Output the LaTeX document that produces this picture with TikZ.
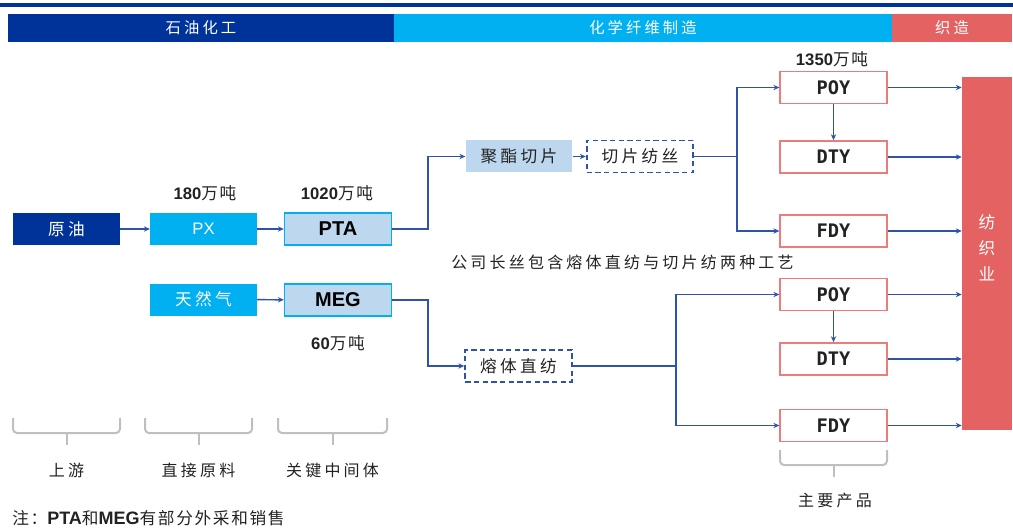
\documentclass[tikz,border=0pt]{standalone}
\usepackage{fontspec}
\setmainfont{Liberation Sans}
\newfontfamily\cjk[LetterSpace=20]{Noto Sans CJK SC}
\newfontfamily\cjks[LetterSpace=10]{Noto Sans CJK SC}
\newfontfamily\cjkn{Noto Sans CJK SC}
\newfontfamily\mono{DejaVu Sans Mono}
\usetikzlibrary{arrows.meta,calc}
\definecolor{dblue}{HTML}{003399}
\definecolor{lblue}{HTML}{00B0F0}
\definecolor{pblue}{HTML}{BDD7EE}
\definecolor{tred}{HTML}{E46262}
\definecolor{bred}{HTML}{EE7B7B}
\definecolor{lineb}{HTML}{2F52AA}
\definecolor{gbrace}{HTML}{BFBFBF}
\definecolor{txt}{HTML}{222222}
% \mybrace{x1}{x2}{ytop}
\newcommand\mybrace[3]{%
  \draw[bracestyle] (#1,#3) -- (#1,#3+15) -- (#2,#3+15) -- (#2,#3);
  \draw[bracestyle] ({(#1+#2)/2},#3+15) -- ({(#1+#2)/2},#3+27);}
\begin{document}
\begin{tikzpicture}[x=0.75pt,y=-0.75pt,
  hdr/.style={inner sep=0, minimum height=21pt, text=white, font=\cjk\fontsize{11.5}{13}\selectfont},
  box/.style={minimum width=80pt, minimum height=24pt, inner sep=0},
  dbox/.style={box, fill=dblue, text=white, font=\cjk\fontsize{12.5}{14}\selectfont},
  lbox/.style={box, fill=lblue, text=white},
  pbox/.style={box, fill=pblue, draw=lblue, line width=1.2pt, text=black, font=\bfseries\fontsize{15}{17}\selectfont},
  chipbox/.style={box, fill=pblue, text=txt, font=\cjk\fontsize{12.5}{14}\selectfont},
  dashbox/.style={box, draw=lineb, line width=1.3pt, dash pattern=on 4pt off 2.5pt, fill=white, text=txt, font=\cjk\fontsize{12.5}{14}\selectfont},
  prod/.style={box, draw=bred, line width=1.2pt, fill=white, text=txt, font=\mono\bfseries\fontsize{14}{16}\selectfont},
  arr/.style={draw=lineb, line width=1.1pt, -{Stealth[length=4.5pt,width=4pt]}},
  bracestyle/.style={draw=gbrace, line width=1.5pt, rounded corners=3pt},
  lbl/.style={inner sep=0, text=txt, font=\cjk\fontsize{12}{14}\selectfont},
  qty/.style={inner sep=0, text=txt, font=\bfseries\fontsize{12.5}{14}\selectfont}]
\useasboundingbox (0,0) rectangle (1013,531);
% top rule
\fill[dblue] (0,3.5) rectangle (1013,7);
% header bars
\node[hdr, fill=dblue, minimum width=289.5pt] (h1) at (201,28) {石油化工};
\node[hdr, fill=lblue, minimum width=373.5pt] (h2) at (643,28) {化学纤维制造};
\node[hdr, fill=tred, minimum width=90pt] (h3) at (952,28) {织造};
% left chain
\node[dbox] (crude) at (66.5,229) {原油};
\node[lbox, font=\fontsize{12.5}{14}\selectfont] (px) at (203.5,229) {PX};
\node[pbox] (pta) at (338,229) {PTA};
\node[lbox, font=\cjk\fontsize{12.5}{14}\selectfont] (gas) at (203.5,299.5) {天然气};
\node[pbox] (meg) at (338,300) {MEG};
% middle
\node[chipbox] (chip) at (519,156.5) {聚酯切片};
\node[dashbox] (spin) at (640,156.5) {切片纺丝};
\node[dashbox] (melt) at (518.5,366) {熔体直纺};
% products
\node[prod] (poy1) at (833.5,87.5) {POY};
\node[prod] (dty1) at (833.5,157) {DTY};
\node[prod] (fdy1) at (833.5,231) {FDY};
\node[prod] (poy2) at (833.5,294.5) {POY};
\node[prod] (dty2) at (833.5,359) {DTY};
\node[prod] (fdy2) at (833.5,425.5) {FDY};
% textile industry
\node[fill=tred, minimum width=37.5pt, minimum height=265pt, inner sep=0] (tex) at (987,253.5) {};
\node[inner sep=0, text=white, align=center, font=\cjkn\fontsize{12.5}{19.5}\selectfont] (texlbl) at (987,247.5) {纺\\织\\业};
% junction coordinates
\coordinate (jA) at (428,0);
\coordinate (jB) at (737,0);
\coordinate (jC) at (676,0);
% connectors
\draw[arr] (crude) -- (px);
\draw[arr] (px) -- (pta);
\draw[arr] (gas) -- (meg);
\draw[arr] (pta.east) -| (chip.west -| jA) -- (chip.west);
\draw[arr] (meg.east) -| (melt.west -| jA) -- (melt.west);
\draw[arr] (chip) -- (spin);
\draw[arr] (spin.east) -| (poy1.west -| jB) -- (poy1.west);
\draw[arr] (spin.east) -| (fdy1.west -| jB) -- (fdy1.west);
\draw[arr] (melt.east) -| (poy2.west -| jC) -- (poy2.west);
\draw[arr] (melt.east) -| (fdy2.west -| jC) -- (fdy2.west);
\draw[arr] (poy1) -- (dty1);
\draw[arr] (poy2) -- (dty2);
\foreach \n in {poy1,dty1,fdy1,poy2,dty2,fdy2}
  \draw[arr] (\n.east) -- (\n.east -| tex.west);
% quantities
\node[qty] (q1) at (205,193) {180{\cjks\mdseries 万吨}};
\node[qty] (q2) at (337,193) {1020{\cjks\mdseries 万吨}};
\node[qty] (q3) at (338,343) {60{\cjks\mdseries 万吨}};
\node[qty] (q4) at (832,59) {1350{\cjks\mdseries 万吨}};
% note
\node[lbl, anchor=west] (note) at (451,262) {公司长丝包含熔体直纺与切片纺两种工艺};
% braces and labels
\mybrace{13}{120}{418}
\mybrace{145}{252}{418}
\mybrace{278}{387}{418}
\mybrace{780}{887}{450}
\node[lbl] (l1) at (66.5,470) {上游};
\node[lbl] (l2) at (198.5,470) {直接原料};
\node[lbl] (l3) at (332.5,470) {关键中间体};
\node[lbl] (l4) at (835,500) {主要产品};
% footnote
\node[inner sep=0, anchor=west, text=txt, font=\cjks\fontsize{12.5}{14}\selectfont] (foot) at (12,518)
  {注：{\rmfamily\bfseries\fontsize{13.5}{14}\selectfont PTA}和{\rmfamily\bfseries\fontsize{13.5}{14}\selectfont MEG}有部分外采和销售};
\end{tikzpicture}
\end{document}
